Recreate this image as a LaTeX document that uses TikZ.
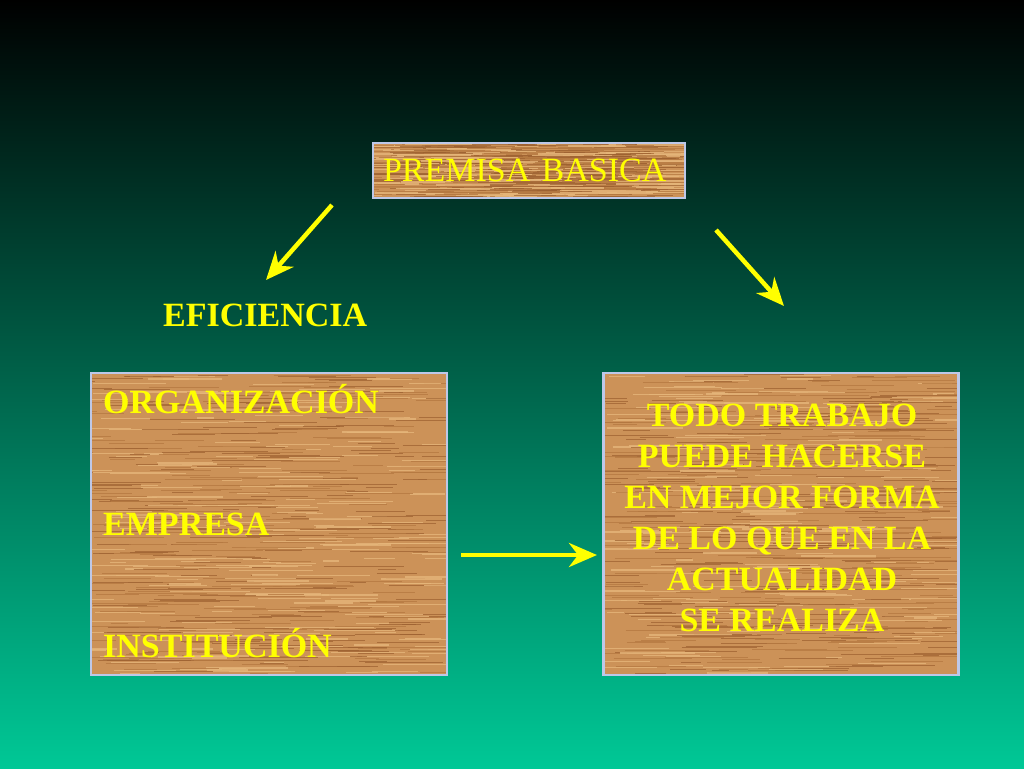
\documentclass[tikz,border=0pt]{standalone}
\usepackage{fontspec}
\setmainfont{Liberation Serif}
\usetikzlibrary{arrows.meta,calc}

\definecolor{bgbottom}{RGB}{0,200,150}
\definecolor{bgmid}{RGB}{0,118,86}
\definecolor{woodbase}{RGB}{204,146,88}
\definecolor{woodlight}{RGB}{230,182,122}
\definecolor{wooddark}{RGB}{156,96,48}
\definecolor{woodmid}{RGB}{182,122,66}
\definecolor{boxedge}{RGB}{190,200,232}
\definecolor{labelyellow}{RGB}{255,255,0}

\begin{document}
\begin{tikzpicture}[x=1pt,y=-1pt,
    grain0/.style={wooddark,line width=1pt,opacity=0.7},
    grain1/.style={woodlight,line width=1.2pt,opacity=0.8},
    grain2/.style={woodmid,line width=0.9pt,opacity=0.8},
    wood/.style={draw=boxedge, line width=2.5pt, fill=woodbase, inner sep=0pt,
      path picture={
        \foreach \k in {1,...,650}{
          \pgfmathsetmacro{\u}{rnd}
          \pgfmathsetmacro{\v}{rnd}
          \pgfmathsetmacro{\len}{15+70*rnd}
          \pgfmathsetmacro{\tone}{random(0,2)}
          \draw[grain\tone] let \p1=(path picture bounding box.south west),
              \p2=(path picture bounding box.north east) in
              ({\x1+\u*(\x2-\x1)-20pt},{\y1+\v*(\y2-\y1)}) -- ++(\len pt,0);
        }}},
    yellowtext/.style={text=labelyellow, font=\fontsize{34}{41}\selectfont},
    yellowbold/.style={yellowtext, font=\fontsize{34}{41}\selectfont\bfseries},
    yarrow/.style={labelyellow, line width=4.5pt,
      -{Stealth[length=28pt,width=24pt,inset=9pt]}}]

  % background
  \shade[top color=black, middle color=bgmid, bottom color=bgbottom]
    (0,0) rectangle (1024,768);
  \useasboundingbox (0,0) rectangle (1024,768);
  \pgfmathsetseed{7}

  % boxes
  \node[wood, yellowtext, minimum width=312, minimum height=55, text width=292,
    align=left, inner xsep=10pt] (premisa) at (529,170.5) {PREMISA BASICA};
  \node[wood, minimum width=356, minimum height=302] (org) at (269,524) {};
  \node[wood, minimum width=355, minimum height=302] (todo) at (781,524) {};

  % texts
  \node[yellowbold, align=center, inner sep=0pt] (ttodo) at (782,518)
    {TODO TRABAJO\\PUEDE HACERSE\\EN MEJOR FORMA\\
      DE LO QUE EN LA\\ACTUALIDAD\\SE REALIZA};
  \node[yellowbold, anchor=base west, inner sep=0pt] (eficiencia) at (163,326) {EFICIENCIA};
  \node[yellowbold, anchor=base west, inner sep=0pt] (torg) at (103,413) {ORGANIZACIÓN};
  \node[yellowbold, anchor=base west, inner sep=0pt] (temp) at (103,535) {EMPRESA};
  \node[yellowbold, anchor=base west, inner sep=0pt] (tinst) at (103,657) {INSTITUCIÓN};

  % arrows
  \coordinate (leftfrom) at (332,205);
  \coordinate (leftto) at (266,280);
  \coordinate (rightfrom) at (716,230);
  \coordinate (rightto) at (784,306);
  \coordinate (midfrom) at (461,555);
  \coordinate (midto) at (597,555);
  \draw[yarrow] (leftfrom) -- (leftto);
  \draw[yarrow] (rightfrom) -- (rightto);
  \draw[yarrow] (midfrom) -- (midto);
\end{tikzpicture}
\end{document}
